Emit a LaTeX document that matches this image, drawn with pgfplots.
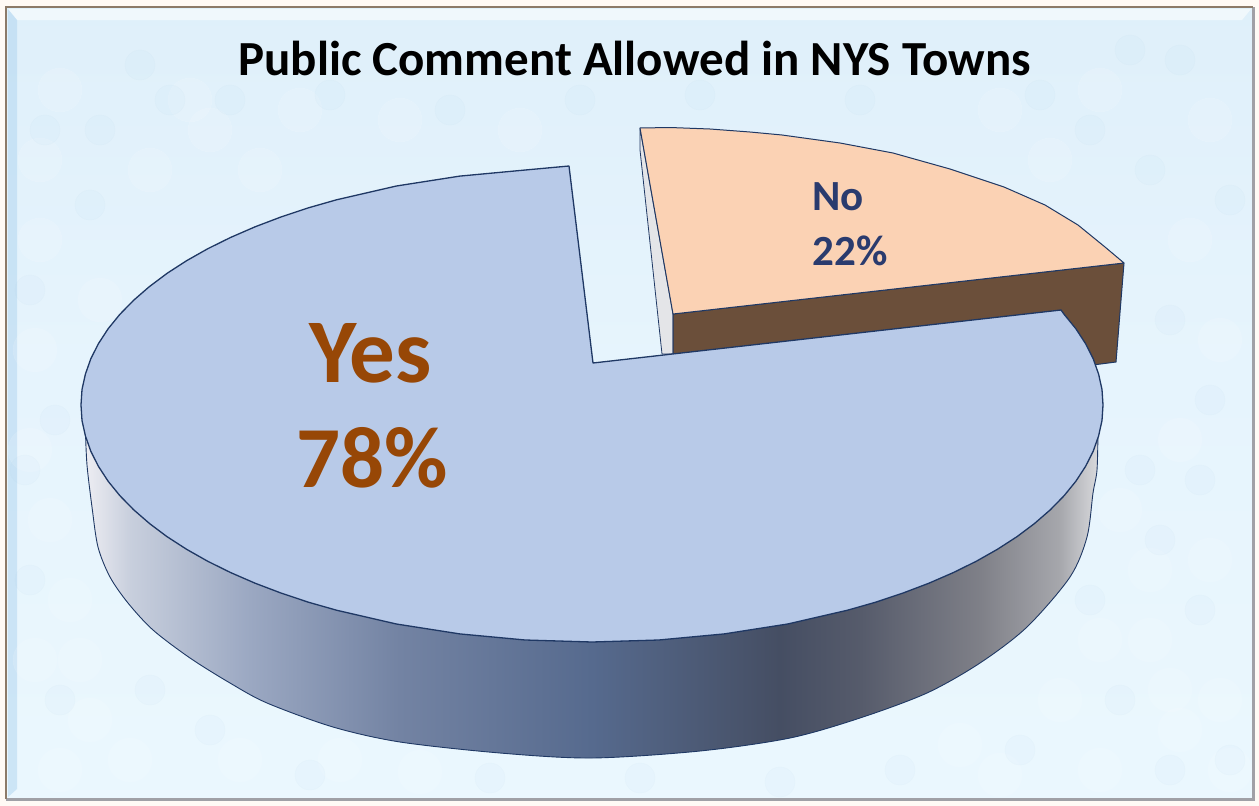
\documentclass[border=0pt]{standalone}
\usepackage{pgfplots}
\pgfplotsset{compat=1.18}
\usepackage{fontspec}
\setmainfont{Carlito}
\definecolor{edge}{HTML}{1F3864}
\definecolor{topblue}{HTML}{B8CAE8}
\definecolor{peach}{HTML}{FBD2B4}
\definecolor{brownside}{HTML}{6B4F3A}
\definecolor{greyside}{HTML}{E4E5E8}
\definecolor{yescol}{HTML}{974706}
\definecolor{nocol}{HTML}{2A3B6E}
\definecolor{frame}{HTML}{8C7A68}
\definecolor{frameb}{HTML}{A0A0A6}
\definecolor{blotw}{HTML}{FFFFFF}
\definecolor{blotb}{HTML}{A8D0EE}
\pgfdeclarehorizontalshading{wallsh}{100bp}{
 rgb(0bp)=(0.93,0.93,0.95);
 rgb(25bp)=(0.93,0.93,0.95);
 rgb(27.2bp)=(0.784,0.812,0.867);
 rgb(33.1bp)=(0.608,0.659,0.761);
 rgb(40.5bp)=(0.451,0.514,0.639);
 rgb(50bp)=(0.337,0.416,0.557);
 rgb(59.3bp)=(0.271,0.306,0.388);
 rgb(63.3bp)=(0.337,0.357,0.420);
 rgb(69.2bp)=(0.498,0.502,0.533);
 rgb(73.1bp)=(0.651,0.655,0.675);
 rgb(75bp)=(0.847,0.851,0.863);
 rgb(100bp)=(0.847,0.851,0.863)}
\pgfdeclareverticalshading{bgsh}{100bp}{
 rgb(0bp)=(0.92,0.97,0.995);
 rgb(25bp)=(0.92,0.97,0.995);
 rgb(55bp)=(0.90,0.955,0.99);
 rgb(75bp)=(0.875,0.94,0.98);
 rgb(100bp)=(0.875,0.94,0.98)}
\begin{document}
\begin{tikzpicture}
\begin{axis}[
  scale only axis, width=1259pt, height=806pt,
  xmin=0, xmax=1259, ymin=0, ymax=806, y dir=reverse,
  hide axis, clip=true]
% page and paper
\addplot[draw=none, fill=white!96!orange] coordinates {(0,0)(1259,0)(1259,806)(0,806)} --cycle;
\addplot[draw=none, shade, shading=bgsh] coordinates {(6,7)(1253,7)(1253,799)(6,799)} --cycle;
% mottled paper
\addplot[only marks, mark=*, mark size=22pt, draw=blotw, fill=blotw, mark options={draw=blotw, fill=blotw, opacity=.13}] coordinates {
(60,90)(190,100)(150,170)(40,240)(210,130)(35,350)(50,520)(35,660)(90,720)(240,760)(70,600)(420,772)(960,745)(1060,700)(1150,640)(1210,560)(1180,440)(1220,340)(1190,240)(1210,120)(1100,90)(1050,160)(1180,730)(1220,700)(1120,510)(300,110)(400,120)(520,130)(130,760)(340,760)(1100,770)(1000,775)(60,770)(1230,770)(1150,570)(1170,690)(1100,640)(80,660)(30,450)(100,300)(40,160)(260,170)(1000,110)};
\addplot[only marks, mark=*, mark size=15pt, draw=blotb, fill=blotb, mark options={draw=blotb, fill=blotb, opacity=.06}] coordinates {
(140,65)(100,130)(45,130)(230,100)(330,95)(450,110)(90,205)(30,290)(55,420)(30,580)(60,700)(150,690)(210,730)(310,775)(490,778)(640,778)(780,782)(900,770)(1020,750)(1120,700)(1200,610)(1160,540)(1140,470)(1210,400)(1170,320)(1230,200)(1150,170)(1090,130)(1180,60)(1040,95)(860,100)(700,95)(580,100)(1170,770)(1090,600)(1230,760)(25,470)(170,100)(1130,50)(1200,480)};
% bevel strips
\addplot[draw=none, fill=white, fill opacity=.55] coordinates {(8,9)(1251,9)(1242,20)(17,20)} --cycle;
\addplot[draw=none, fill=blotb, fill opacity=.45] coordinates {(8,9)(17,20)(17,789)(8,797)} --cycle;
% detached slice: sides first
\addplot[draw=edge, line width=.8pt, fill=greyside] coordinates {(640,128)(640,150)(662,354)(673,354)(673,314)} --cycle;
\addplot[draw=edge, line width=1pt, fill=brownside, line join=round] coordinates {(673,314)(1124,263)(1116,362)(1085,366)(673,400)} --cycle;
\addplot[draw=edge, line width=1pt, fill=peach, line join=round] coordinates {
(673,314)(640,128)(670,127.5)(710,129)(750,132)(782,135)(840,143)(893,153)(950,169)(1004,187)(1045,205)(1078,225)(1105,247)(1124,263)} --cycle;
% main slice: wall
\addplot[draw=edge, line width=.9pt, shade, shading=wallsh, smooth] coordinates {
(85.4,430)(87,465)(92,507)(98,547)(110,577)(128,603)(153,630)(190,658)(230,683)(267,703)(333,727)(400,742)(500,753)(592,758)(700,751)(790,738)(860,718)(927,693)(980,663)(1027,627)(1070,577)(1087,537)(1093,493)(1097,470)(1098,430)} --cycle;
% main slice: top
\addplot[draw=edge, line width=1.3pt, fill=topblue, line join=round] coordinates {
(593,363)(569,166)(525.3,170)(459.8,176.1)(396.4,186)(336.5,199.8)(308.1,207.9)(280.9,217)(255.1,226.8)(230.7,237.4)(207.8,248.7)(186.6,260.7)(167.1,273.3)(149.5,286.5)(133.7,300.2)(119.9,314.3)(108.1,328.8)(98.4,343.7)(90.8,358.8)(85.4,374.1)(82,389.5)(81,405)
(82,420.5)(85.4,435.9)(90.8,451.2)(98.4,466.3)(108.1,481.2)(119.9,495.7)(133.7,509.8)(149.5,523.5)(167.1,536.7)(186.6,549.3)(207.8,561.3)(230.7,572.6)(255.1,583.2)(280.9,593)(308.1,602.1)(336.5,610.2)(396.4,624)(459.8,633.9)(525.3,640)(592,642)
(658.7,640)(724.2,633.9)(787.6,624)(847.5,610.2)(875.9,602.1)(903.1,593)(928.9,583.2)(953.3,572.6)(976.2,561.3)(997.4,549.3)(1016.9,536.7)(1034.5,523.5)(1050.3,509.8)(1064.1,495.7)(1075.9,481.2)(1085.6,466.3)(1093.2,451.2)(1098.6,435.9)(1102,420.5)(1103,405)
(1102,389.5)(1098.6,374.1)(1093.2,358.8)(1085.6,343.7)(1075.9,328.8)(1064.1,314.3)(1061,310)} --cycle;
% text
\node[font=\fontsize{49}{55}\selectfont\bfseries, text=black] at (axis cs:634.5,58) {Public Comment Allowed in NYS Towns};
\node[font=\fontsize{91}{96}\selectfont\bfseries, text=yescol] at (axis cs:371,353) {Yes};
\node[font=\fontsize{87}{92}\selectfont\bfseries, text=yescol] at (axis cs:372,458) {78\%};
\node[font=\fontsize{43}{48}\selectfont\bfseries, text=nocol] at (axis cs:838,197) {No};
\node[font=\fontsize{43}{48}\selectfont\bfseries, text=nocol] at (axis cs:850,251) {22\%};
% frame
\addplot[draw=frameb, line width=3pt] coordinates {(6,799)(1253,799)(1253,7)};
\addplot[draw=frame, line width=2.5pt] coordinates {(6,799)(6,7)(1253,7)};
\end{axis}
\end{tikzpicture}
\end{document}
